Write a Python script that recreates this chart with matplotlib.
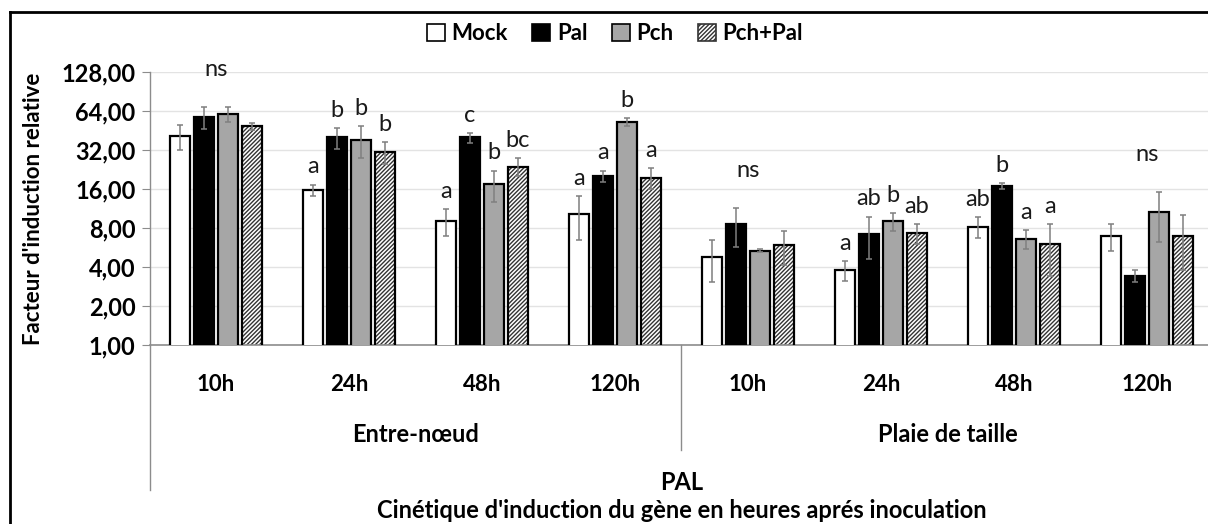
import matplotlib
matplotlib.use("Agg")
import matplotlib.pyplot as plt
import numpy as np
from matplotlib.lines import Line2D
from matplotlib.patches import Patch
from matplotlib.ticker import FixedLocator, FuncFormatter

plt.rcParams["font.family"] = ["Lato", "DejaVu Sans"]
plt.rcParams["hatch.linewidth"] = 1.0

# ---- données : facteur d'induction relative du gène PAL ----
hours = ["10h", "24h", "48h", "120h", "10h", "24h", "48h", "120h"]
tissues = ["Entre-nœud", "Plaie de taille"]
treatments = ["Mock", "Pal", "Pch", "Pch+Pal"]

mock = [41.0, 15.7, 9.06, 10.3, 4.75, 3.79, 8.15, 6.94]
mock_err = [8.8, 1.6, 2.1, 3.8, 1.7, 0.66, 1.5, 1.6]
pal = [57.8, 40.0, 40.0, 20.1, 8.58, 7.2, 16.9, 3.42]
pal_err = [11.0, 7.3, 3.5, 2.1, 2.9, 2.6, 0.8, 0.37]
pch = [60.7, 38.3, 17.5, 52.7, 5.34, 9.0, 6.61, 10.7]
pch_err = [7.6, 10.5, 4.7, 3.5, 0.15, 1.4, 1.1, 4.5]
pchpal = [48.8, 31.1, 23.8, 19.6, 5.88, 7.3, 6.02, 6.9]
pchpal_err = [3.0, 6.0, 3.8, 3.5, 1.7, 1.3, 2.6, 3.1]

# lettres des groupes statistiques
mock_lbl = ["", "a", "a", "a", "", "a", "ab", ""]
pal_lbl = ["", "b", "c", "a", "", "ab", "b", ""]
pch_lbl = ["", "b", "b", "b", "", "b", "a", ""]
pchpal_lbl = ["", "b", "bc", "a", "", "ab", "a", ""]
group_lbl = ["ns", "", "", "", "ns", "", "", "ns"]

yticks = [1, 2, 4, 8, 16, 32, 64, 128]

HATCH = "////////"
series = [
    (mock, mock_err, mock_lbl, dict(facecolor="white")),
    (pal, pal_err, pal_lbl, dict(facecolor="black")),
    (pch, pch_err, pch_lbl, dict(facecolor="#a6a6a6")),
    (pchpal, pchpal_err, pchpal_lbl, dict(facecolor="white", hatch=HATCH)),
]

W, H = 1208, 524
fig = plt.figure(figsize=(W / 100, H / 100), dpi=100)
ax = fig.add_axes([149.5 / W, 1 - 345 / H, 1064 / W, 273 / H])
ax.set_yscale("log", base=2)

x = np.arange(len(hours))
bw = 0.15
step = 0.18
offsets = (np.arange(4) - 1.5) * step

tops = np.zeros((4, len(hours)))
for i, (vals, errs, lbls, style) in enumerate(series):
    pos = x + offsets[i]
    if "hatch" in style:
        ax.bar(pos, vals, bw, facecolor="white", edgecolor="#333333",
               linewidth=0, hatch=style["hatch"], zorder=2)
        ax.bar(pos, vals, bw, fill=False, edgecolor="black", linewidth=1.6, zorder=3)
    else:
        ax.bar(pos, vals, bw, facecolor=style["facecolor"], edgecolor="black",
               linewidth=1.6, zorder=3)
    ax.errorbar(pos, vals, yerr=errs, fmt="none", ecolor="#7f7f7f",
                elinewidth=1.1, capsize=2, capthick=1.1, zorder=4)
    tops[i] = np.array(vals) + np.array(errs)
    for p, t, s in zip(pos, tops[i], lbls):
        if s:
            ax.annotate(s, (p, t), xytext=(0, 8), textcoords="offset points",
                        ha="center", va="baseline", fontsize=17, color="#1a1a1a")

for g, s in enumerate(group_lbl):
    if s:
        ax.annotate(s, (x[g], tops[:, g].max()), xytext=(0, 22),
                    textcoords="offset points", ha="center", va="baseline",
                    fontsize=17, color="#1a1a1a")

ax.set_xlim(-0.5, len(hours) - 0.5)
ax.set_ylim(1, 128)
ax.yaxis.set_major_locator(FixedLocator(yticks))
ax.yaxis.set_minor_locator(FixedLocator([]))
ax.yaxis.set_major_formatter(FuncFormatter(lambda v, _: f"{v:.2f}".replace(".", ",")))
ax.grid(axis="y", color="#e3e3e3", linewidth=1.0, zorder=0)
ax.set_axisbelow(True)

for side in ("top", "right"):
    ax.spines[side].set_visible(False)
ax.spines["left"].set_color("#8c8c8c")
ax.spines["bottom"].set_color("#8c8c8c")
ax.spines["left"].set_linewidth(1.0)
ax.spines["bottom"].set_linewidth(1.2)
ax.tick_params(axis="y", length=6, color="#8c8c8c", labelsize=17, pad=4)
for t in ax.get_yticklabels():
    t.set_fontweight("bold")

ax.set_xticks(x, hours)
ax.tick_params(axis="x", length=0, labelsize=16, pad=21)
for t in ax.get_xticklabels():
    t.set_fontweight("bold")

ax.set_ylabel("Facteur d'induction relative", fontsize=16, fontweight="bold")
ax.yaxis.set_label_coords((44 - 149.5) / 1064, 0.5)

# axe des catégories à plusieurs niveaux
ax.plot([0, 0], [0, (345 - 490) / 273], transform=ax.transAxes, color="#8c8c8c",
        linewidth=1.0, clip_on=False)
ax.plot([0.5, 0.5], [0, (345 - 450) / 273], transform=ax.transAxes, color="#8c8c8c",
        linewidth=1.0, clip_on=False)
for k, name in enumerate(tissues):
    ax.text(0.25 + 0.5 * k, (345 - 435) / 273, name, transform=ax.transAxes,
            ha="center", va="center", fontsize=17, fontweight="bold")
ax.text(0.5, (345 - 483) / 273, "PAL", transform=ax.transAxes,
        ha="center", va="center", fontsize=17, fontweight="bold")
ax.text(0.5, (345 - 510) / 273, "Cinétique d'induction du gène en heures aprés inoculation",
        transform=ax.transAxes, ha="center", va="center", fontsize=17, fontweight="bold")

# légende
handles = [
    Patch(facecolor="white", edgecolor="black", linewidth=1.2),
    Patch(facecolor="black", edgecolor="black", linewidth=1.2),
    Patch(facecolor="#a6a6a6", edgecolor="black", linewidth=1.2),
    Patch(facecolor="white", edgecolor="#333333", linewidth=1.2, hatch=HATCH),
]
fig.legend(handles, treatments, loc="center", bbox_to_anchor=(615 / W, 1 - 34 / H),
           ncol=4, frameon=False, handlelength=0.8, handleheight=0.8,
           handletextpad=0.3, columnspacing=1.1,
           prop=dict(family=["Lato", "DejaVu Sans"], weight="bold", size=16))

# cadre du graphique
fig.add_artist(Line2D([10 / W, 1.01], [1 - 12 / H, 1 - 12 / H], color="black", linewidth=2))
fig.add_artist(Line2D([10 / W, 10 / W], [-0.01, 1 - 12 / H], color="black", linewidth=2))

fig.savefig("out.png", dpi=100)
